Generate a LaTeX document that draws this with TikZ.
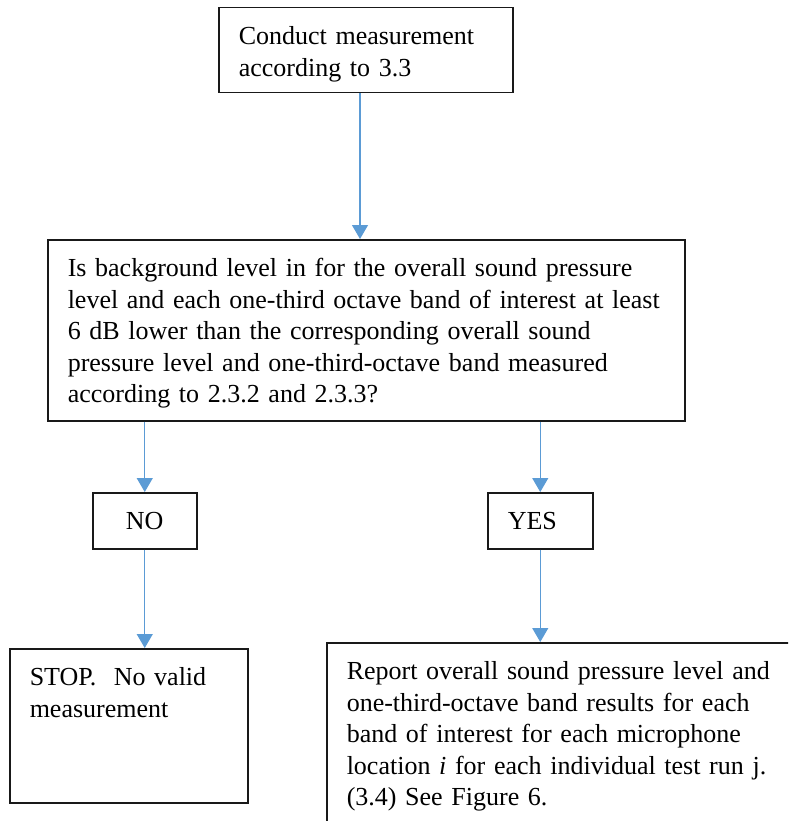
\documentclass[tikz,border=0pt]{standalone}
\usepackage{fontspec}
\setmainfont{Liberation Serif}
\usetikzlibrary{arrows.meta}
\definecolor{flowblue}{RGB}{91,155,213}

\begin{document}
\begin{tikzpicture}[x=1pt, y=-1pt,
    box/.style={draw=black!90, line width=1.5pt, anchor=north west, inner xsep=20pt, inner ysep=0pt,
        align=left, text height=37pt, font=\fontsize{26}{31.5}\selectfont},
    flow/.style={draw=flowblue, line width=1.2pt, -{Triangle[length=14pt, width=16pt]}}]
    % Page
    \useasboundingbox (0,0) rectangle (788,821);
    \clip (0,0) rectangle (788,821);

    % Boxes
    \node[box, text width=254pt, text depth=48pt] (measure) at (218,7)
        {Conduct measurement\\according to 3.3};
    \node[box, text width=597pt, text depth=144pt] (check) at (47,239)
        {Is background level in for the overall sound pressure\\
         level and each one-third octave band of interest at least\\
         6 dB lower than the corresponding overall sound\\
         pressure level and one-third-octave band measured\\
         according to 2.3.2 and 2.3.3?};
    \node[box, text width=64pt, text depth=19pt, align=center] (no) at (92,492) {NO};
    \node[box, text width=65pt, text depth=19pt] (yes) at (487,492) {YES};
    \node[box, text width=198pt, text depth=117pt] (stop) at (9,648)
        {STOP.\ \ No valid\\measurement};
    \node[box, text width=500pt, text depth=183pt] (report) at (326,642)
        {Report overall sound pressure level and\\
         one-third-octave band results for each\\
         band of interest for each microphone\\
         location \textit{i} for each individual test run j.\\
         (3.4) See Figure 6.};

    % Arrows
    \coordinate (c1) at (360,0);
    \draw[flow] (measure.south -| c1) -- (check.north -| c1);
    \draw[flow] (check.south -| no.north) -- (no.north);
    \draw[flow] (check.south -| yes.north) -- (yes.north);
    \draw[flow] (no.south) -- (no.south |- stop.north);
    \draw[flow] (yes.south) -- (yes.south |- report.north);
\end{tikzpicture}
\end{document}
